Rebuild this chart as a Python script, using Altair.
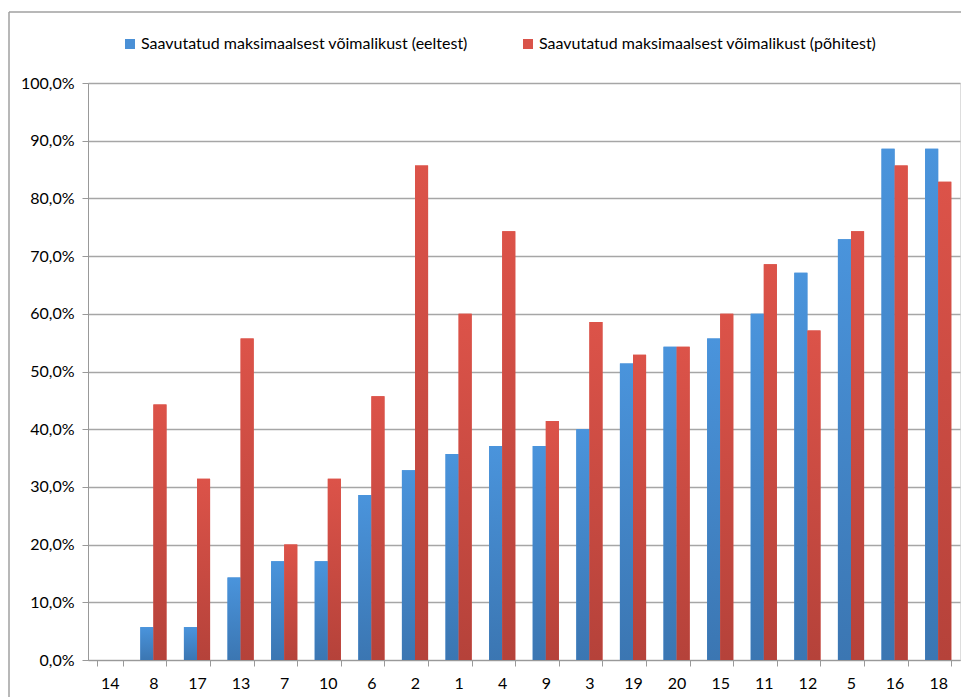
import altair as alt
import pandas as pd

categories = ["14", "8", "17", "13", "7", "10", "6", "2", "1", "4", "9", "3",
              "19", "20", "15", "11", "12", "5", "16", "18"]
pre_test = [0, 5.7, 5.7, 14.3, 17.1, 17.1, 28.6, 32.9, 35.7, 37.1, 37.1, 40.0,
            51.4, 54.3, 55.7, 60.0, 67.1, 72.9, 88.6, 88.6]
main_test = [0, 44.3, 31.4, 55.7, 20.0, 31.4, 45.7, 85.7, 60.0, 74.3, 41.4, 58.6,
             52.9, 54.3, 60.0, 68.6, 57.1, 74.3, 85.7, 82.9]
series_names = ["Saavutatud maksimaalsest võimalikust (eeltest)",
                "Saavutatud maksimaalsest võimalikust (põhitest)"]
series_colors = ["#4a90d6", "#d9534a"]

rows = []
for c, a, b in zip(categories, pre_test, main_test):
    rows.append({"cat": c, "series": series_names[0], "value": a})
    rows.append({"cat": c, "series": series_names[1], "value": b})
df = pd.DataFrame(rows)

FONT = "Lato"
FS = 16

x_enc = alt.X("cat:N", sort=categories, title=None,
              scale=alt.Scale(paddingInner=0.4, paddingOuter=0.2),
              axis=alt.Axis(labelAngle=0, tickBand="extent", labelFontSize=FS,
                            labelColor="#000", domainColor="#999", tickColor="#999",
                            tickSize=6, labelPadding=9, labelFont=FONT))
y_enc = alt.Y("value:Q", title=None,
              scale=alt.Scale(domain=[0, 100], nice=False),
              axis=alt.Axis(values=list(range(0, 101, 10)),
                            labelExpr="replace(format(datum.value, '.1f'), '.', ',') + '%'",
                            labelFontSize=FS, labelColor="#000", labelFont=FONT,
                            domainColor="#999", tickColor="#999", tickSize=6,
                            labelPadding=8, grid=True, gridColor="#a6a6a6",
                            gridWidth=1.5))
xo = alt.XOffset("series:N", scale=alt.Scale(domain=series_names))

frame_df = pd.DataFrame({"k": [0]})
frame_left = alt.Chart(frame_df).mark_rule(
    color="#a0a0a0", strokeWidth=1.5, clip=False
).encode(x=alt.value(-79), y=alt.value(-71), y2=alt.value(700))
frame_top = alt.Chart(frame_df).mark_rule(
    color="#a0a0a0", strokeWidth=1.5, clip=False
).encode(x=alt.value(-79), x2=alt.value(1000), y=alt.value(-71))

legend_layer = alt.Chart(df).mark_bar().encode(
    x=x_enc, y=y_enc, xOffset=xo,
    color=alt.Color("series:N", scale=alt.Scale(domain=series_names, range=series_colors),
                    legend=alt.Legend(title=None, orient="none", direction="horizontal",
                                      legendX=34, legendY=-47, symbolType="square",
                                      symbolSize=100, symbolStrokeWidth=0,
                                      labelFontSize=FS, labelFont=FONT, labelColor="#000",
                                      columnPadding=52, labelLimit=500, labelOffset=3)),
)

def grad(top, bottom):
    return alt.Gradient(gradient="linear", x1=0, x2=0, y1=0, y2=1,
                        stops=[alt.GradientStop(color=top, offset=0),
                               alt.GradientStop(color=bottom, offset=1)])

blue_layer = alt.Chart(df).transform_filter(
    alt.datum.series == series_names[0]
).mark_bar(color=grad("#4a94dc", "#3b76b2")).encode(x=x_enc, y=y_enc, xOffset=xo)

red_layer = alt.Chart(df).transform_filter(
    alt.datum.series == series_names[1]
).mark_bar(color=grad("#dc5349", "#b5423a")).encode(x=x_enc, y=y_enc, xOffset=xo)

chart = alt.layer(frame_left, frame_top, legend_layer, blue_layer, red_layer).properties(
    width=872, height=577,
    autosize=alt.AutoSizeParams(type="none"),
    padding={"left": 80, "top": 75, "right": 1, "bottom": 50},
).configure_view(stroke=None).configure(background="white")

chart.save("out.html", embed_options={"renderer": "svg", "actions": False})
